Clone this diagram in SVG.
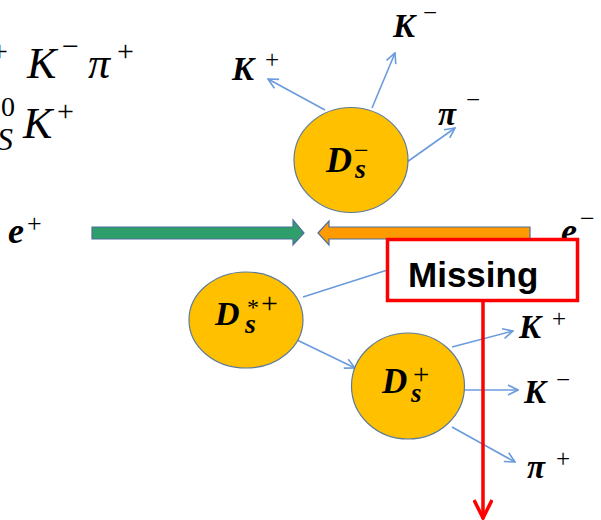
<svg xmlns="http://www.w3.org/2000/svg" width="601" height="520" viewBox="0 0 601 520">
<style>
.math{font-family:"Liberation Serif","DejaVu Serif",serif;font-style:italic;fill:#000}
.lbl{font-family:"Liberation Serif","DejaVu Serif",serif;font-style:italic;font-weight:bold;fill:#000}
.up{font-family:"Liberation Serif","DejaVu Serif",serif;font-style:normal;font-weight:normal;fill:#000}
.ball{fill:#ffc000;stroke:#5f7a96;stroke-width:1.2}
.conn{stroke:#6a9bdc;stroke-width:1.6;fill:none}
.beam{stroke:#4f6f9e;stroke-width:1.2}
</style>
<defs>
<marker id="ah" viewBox="0 0 12 12" refX="11" refY="6" markerWidth="12" markerHeight="12" orient="auto" markerUnits="userSpaceOnUse">
<path d="M1,1 L11,6 L1,11" fill="none" stroke="#6a9bdc" stroke-width="1.6"/>
</marker>
<marker id="rh" viewBox="0 0 24 20" refX="22" refY="10" markerWidth="24" markerHeight="20" orient="auto" markerUnits="userSpaceOnUse">
<path d="M3,1 L21,10 L3,19" fill="none" stroke="#ff0000" stroke-width="3.5"/>
</marker>
</defs>

<g id="formula">
<text class="math" font-size="44"><tspan class="up" x="-9" y="61" font-size="30">+</tspan><tspan x="27" y="78">K</tspan><tspan class="up" x="62" y="56" font-size="30">−</tspan><tspan x="88" y="78">π</tspan><tspan class="up" x="117" y="61" font-size="30">+</tspan></text>
<text class="math" font-size="44"><tspan class="up" x="1" y="116" font-size="28">0</tspan><tspan x="-3" y="150" font-size="32">S</tspan><tspan x="23" y="138">K</tspan><tspan class="up" x="57" y="121" font-size="30">+</tspan></text>
</g>

<g id="connectors">
<line class="conn" x1="325" y1="110" x2="268" y2="79" marker-end="url(#ah)"/>
<line class="conn" x1="372" y1="108" x2="395" y2="53" marker-end="url(#ah)"/>
<line class="conn" x1="407" y1="162" x2="455" y2="128" marker-end="url(#ah)"/>
<line class="conn" x1="303" y1="297" x2="400" y2="266"/>
<line class="conn" x1="297" y1="340" x2="355" y2="368" marker-end="url(#ah)"/>
<line class="conn" x1="452" y1="347" x2="513" y2="331" marker-end="url(#ah)"/>
<line class="conn" x1="465" y1="390" x2="518" y2="390" marker-end="url(#ah)"/>
<line class="conn" x1="452" y1="427" x2="515" y2="462" marker-end="url(#ah)"/>
</g>

<g id="beams">
<polygon class="beam" fill="#2e9e6b" points="92,227 293,227 293,220 304,233 293,245 293,239 92,239"/>
<polygon class="beam" fill="#ff9a00" points="318,233 329,221 329,227 530,227 530,239 329,239 329,245"/>
</g>

<g id="e_plus">
<text class="lbl" font-size="36"><tspan x="8" y="243">e</tspan><tspan class="up" x="27" y="232" font-size="26">+</tspan></text>
</g>
<g id="e_minus">
<text class="lbl" font-size="36"><tspan x="561" y="243">e</tspan><tspan class="up" x="580" y="227" font-size="26">−</tspan></text>
</g>

<g id="Ds_minus">
<ellipse class="ball" cx="351" cy="160" rx="57" ry="52.5"/>
<text class="lbl" font-size="36"><tspan x="326" y="172">D</tspan><tspan x="355" y="178" font-size="28">s</tspan><tspan class="up" x="354" y="159" font-size="26">−</tspan></text>
</g>

<g id="Ds_star_plus">
<ellipse class="ball" cx="246" cy="320" rx="57" ry="48"/>
<text class="lbl" font-size="34"><tspan x="215" y="325">D</tspan><tspan x="245" y="333" font-size="28">s</tspan><tspan class="up" x="247" y="315" font-size="24">*</tspan><tspan class="up" x="261" y="313" font-size="30">+</tspan></text>
</g>

<g id="Ds_plus">
<ellipse class="ball" cx="408" cy="386" rx="56.5" ry="53"/>
<text class="lbl" font-size="35"><tspan x="382" y="393">D</tspan><tspan x="411" y="402" font-size="27">s</tspan><tspan class="up" x="413" y="384" font-size="29">+</tspan></text>
</g>

<g id="K_plus_top">
<text class="lbl" font-size="33"><tspan x="232" y="80">K</tspan><tspan class="up" x="265" y="68" font-size="25">+</tspan></text>
</g>
<g id="K_minus_top">
<text class="lbl" font-size="33"><tspan x="393" y="37">K</tspan><tspan class="up" x="423" y="21" font-size="25">−</tspan></text>
</g>
<g id="pi_minus">
<text class="lbl" font-size="33"><tspan x="438" y="125">π</tspan><tspan class="up" x="466" y="108" font-size="25">−</tspan></text>
</g>
<g id="K_plus_bottom">
<text class="lbl" font-size="33"><tspan x="519" y="338">K</tspan><tspan class="up" x="552" y="327" font-size="25">+</tspan></text>
</g>
<g id="K_minus_bottom">
<text class="lbl" font-size="33"><tspan x="524" y="403">K</tspan><tspan class="up" x="556" y="388" font-size="25">−</tspan></text>
</g>
<g id="pi_plus">
<text class="lbl" font-size="33"><tspan x="527" y="478">π</tspan><tspan class="up" x="556" y="467" font-size="25">+</tspan></text>
</g>

<g id="missing">
<rect x="387.5" y="239.5" width="190" height="61" fill="#ffffff" stroke="#ff0000" stroke-width="3.5"/>
<text x="408" y="287" font-family="Liberation Sans, Arial, sans-serif" font-weight="bold" font-size="35" fill="#000">Missing</text>
</g>
<g id="missing_arrow">
<line x1="483" y1="301" x2="483" y2="519" stroke="#ff0000" stroke-width="3.5" marker-end="url(#rh)"/>
</g>
</svg>
